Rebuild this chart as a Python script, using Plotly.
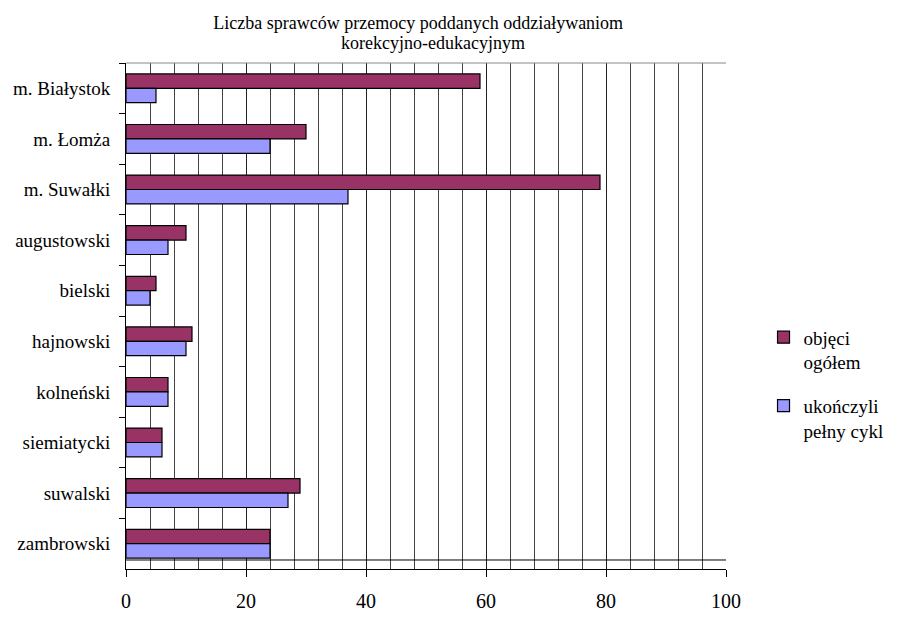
import plotly.graph_objects as go

# data
powiaty = ['m. Białystok', 'm. Łomża', 'm. Suwałki', 'augustowski', 'bielski',
           'hajnowski', 'kolneński', 'siemiatycki', 'suwalski', 'zambrowski']
objeci_ogolem = [59, 30, 79, 10, 5, 11, 7, 6, 29, 24]
ukonczyli_cykl = [5, 24, 37, 7, 4, 10, 7, 6, 27, 24]

FONT = "Liberation Serif, Times New Roman, serif"

fig = go.Figure(data=[
    go.Bar(name='objęci<br>ogółem', y=powiaty, x=objeci_ogolem,
           orientation='h', marker_color='#993366', legendgroup='a',
           marker_line=dict(color='black', width=1.2)),
    go.Bar(name='ukończyli<br>pełny cykl', y=powiaty, x=ukonczyli_cykl,
           orientation='h', marker_color='#9999FF', legendgroup='b',
           marker_line=dict(color='black', width=1.2)),
])

# the page body has an 8px margin, so the figure is offset by 8px
fig.update_layout(
    barmode='group',
    bargap=0.43,
    bargroupgap=0,
    width=892,
    height=604,
    autosize=False,
    margin=dict(l=118, r=174, t=55, b=43),
    paper_bgcolor='white',
    plot_bgcolor='white',
    font=dict(family=FONT, size=18, color='black'),
    title=dict(text='Liczba sprawców przemocy poddanych oddziaływaniom',
               font=dict(family=FONT, size=18, color='black'),
               x=0.487, xref='paper', xanchor='center',
               y=0.975, yref='container', yanchor='middle'),
    legend=dict(x=0.847, xref='container', xanchor='left',
                y=0.366, yanchor='middle',
                font=dict(family=FONT, size=19, color='black'),
                valign='top', tracegroupgap=16, itemwidth=30,
                bgcolor='rgba(0,0,0,0)'),
    showlegend=True,
)
fig.add_annotation(text='korekcyjno-edukacyjnym', xref='paper', yref='paper',
                   x=0.512, y=1.0395, xanchor='center', yanchor='middle',
                   showarrow=False, font=dict(family=FONT, size=18, color='black'))

fig.update_xaxes(
    range=[0, 100], dtick=20, tick0=0,
    showgrid=True, gridcolor='#222222', gridwidth=1,
    minor=dict(dtick=4, showgrid=True, gridcolor='#444444', gridwidth=1),
    showline=True, linecolor='black', linewidth=1,
    ticks='outside', ticklen=7, tickcolor='black',
    ticklabelstandoff=7, automargin=False,
    tickfont=dict(family=FONT, size=20, color='black'),
    zeroline=False,
)
fig.update_yaxes(
    autorange='reversed',
    showline=True, linecolor='black', linewidth=1,
    ticks='outside', ticklen=6, tickcolor='black', tickson='boundaries',
    ticklabelstandoff=11, automargin=False,
    tickfont=dict(family=FONT, size=19, color='black'),
    showgrid=False,
)

# grey frame line on top of the plot area, and the grid box bottom just above the axis
fig.add_shape(type='line', xref='paper', yref='paper', x0=0, x1=1, y0=1, y1=1,
              line=dict(color='#888888', width=1))
fig.add_shape(type='line', xref='paper', yref='paper', x0=0, x1=1, y0=0.0178, y1=0.0178,
              line=dict(color='black', width=1))

fig.write_html("out.html")
